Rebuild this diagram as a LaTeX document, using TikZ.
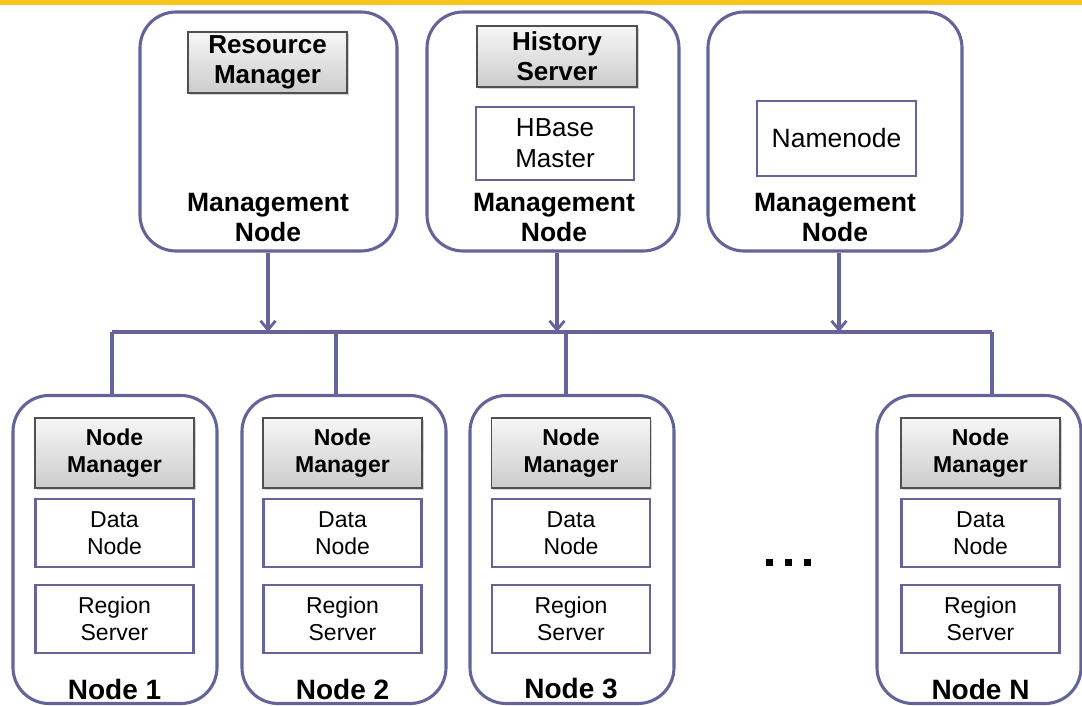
\documentclass[tikz,border=0pt]{standalone}
\usepackage{fontspec}
\setmainfont{Liberation Sans}
\usetikzlibrary{shadows,arrows.meta}
\definecolor{edge}{RGB}{100,100,155}
\definecolor{band}{RGB}{247,196,30}
\definecolor{gborder}{RGB}{80,80,80}
\tikzset{
  mgmt/.style={draw=edge, line width=3.1pt, rounded corners=36pt, fill=white, inner sep=0pt},
  worker/.style={draw=edge, line width=3.1pt, rounded corners=36pt, fill=white, inner sep=0pt, minimum width=204pt, minimum height=308pt},
  graybox/.style={draw=gborder, line width=1.3pt, top color=gray!7, bottom color=gray!40, inner sep=0pt,
     drop shadow={shadow xshift=1.5pt, shadow yshift=-2pt, opacity=0.35}, align=center, font=\bfseries},
  whitebox/.style={draw=edge, line width=2.8pt, fill=white, inner sep=0pt, align=center},
  bigtxt/.style={align=center, font=\fontsize{26.5}{30}\selectfont\bfseries},
  wire/.style={draw=edge, line width=3.1pt},
  arr/.style={wire, -{Straight Barb[length=9pt,width=15pt,line width=2.8pt]}},
}
\begin{document}
\begin{tikzpicture}[x=1pt,y=-1pt]
\useasboundingbox (0,0) rectangle (1082,706);
\fill[band] (0,0) rectangle (1082,5);

% management nodes
\node[mgmt, minimum width=257pt, minimum height=239pt] (m1) at (268.5,131.5) {};
\node[mgmt, minimum width=252pt, minimum height=239pt] (m2) at (553,131.5) {};
\node[mgmt, minimum width=254pt, minimum height=239pt] (m3) at (835,131.5) {};

\node[graybox, minimum width=159pt, minimum height=61pt, font=\fontsize{26}{30}\selectfont\bfseries] (rm) at (267.5,62.5) {Resource\\Manager};
\node[graybox, minimum width=160pt, minimum height=61pt, font=\fontsize{26}{30}\selectfont\bfseries] (hs) at (557,56.5) {History\\Server};
\node[whitebox, minimum width=158pt, minimum height=73pt, font=\fontsize{26}{31}\selectfont] (hb) at (555,143.5) {HBase\\Master};
\node[whitebox, minimum width=159pt, minimum height=75pt, font=\fontsize{26.5}{31}\selectfont] (nn) at (836.5,138.5) {Namenode};

\node[bigtxt] (t1) at (268,218) {Management\\Node};
\node[bigtxt] (t2) at (554,218) {Management\\Node};
\node[bigtxt] (t3) at (835,218) {Management\\Node};

% worker nodes
\foreach \n/\cx/\ix/\lab in {w1/115/114.5/Node 1, w2/344/342.5/Node 2, w3/572/571/Node 3, wn/979/980.5/Node N}{
  \node[worker] (\n) at (\cx,549.5) {};
  \node[graybox, minimum width=159pt, minimum height=70pt, font=\fontsize{23}{27}\selectfont\bfseries] (\n nm) at (\ix,453) {Node\\Manager};
  \node[whitebox, minimum width=158pt, minimum height=68pt, font=\fontsize{23}{27}\selectfont] (\n dn) at (\ix,533) {Data\\Node};
  \node[whitebox, minimum width=158pt, minimum height=68pt, font=\fontsize{23}{27}\selectfont] (\n rs) at (\ix,619) {Region\\Server};
  \node[font=\fontsize{28}{30}\selectfont\bfseries] (\n lab) at (\ix,689) {\lab};
}

% bus
\coordinate (b1) at (112,332);
\coordinate (b2) at (336,332);
\coordinate (b3) at (566,332);
\coordinate (bn) at (992,332);
\coordinate (a1) at (268,332);
\coordinate (a2) at (557,332);
\coordinate (a3) at (839,332);
\draw[wire] (b1) -- (bn);
\draw[wire] (b1) -- (b1 |- w1.north);
\draw[wire] (b2) -- (b2 |- w2.north);
\draw[wire] (b3) -- (b3 |- w3.north);
\draw[wire] (bn) -- (bn |- wn.north);
\draw[arr] (a1 |- m1.south) -- (a1);
\draw[arr] (a2 |- m2.south) -- (a2);
\draw[arr] (a3 |- m3.south) -- (a3);

% ellipsis
\foreach \dx in {769,788,807}{\fill (\dx-3.5,558.5) rectangle (\dx+3.5,565.5);}
\end{tikzpicture}
\end{document}
